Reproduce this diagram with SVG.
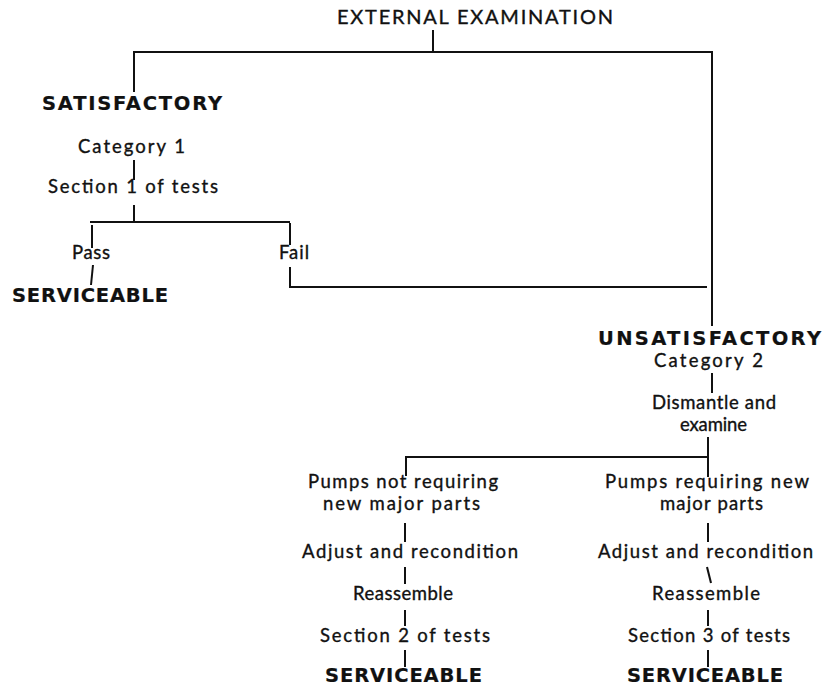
<svg xmlns="http://www.w3.org/2000/svg" width="824" height="690" viewBox="0 0 824 690">
<style>
text{font-family:Lato,"Open Sans","Liberation Sans",sans-serif;fill:#111;text-anchor:middle;stroke:#111;stroke-width:0.35}
.n{font-size:18.5px}
.t{font-size:20px}
.b{font-family:"DejaVu Sans","Liberation Sans",sans-serif;font-size:19.5px;font-weight:bold;stroke-width:0.2}
.c{stroke:#111;stroke-width:2;fill:none;stroke-linecap:butt}
</style>
<rect width="824" height="690" fill="#fff"/>
<g id="connectors" class="c">
<path d="M433,30V52"/>
<path d="M134,92V52H712V326"/>
<path d="M134,160V180"/>
<path d="M134,205V222"/>
<path d="M90,222H290"/>
<path d="M92,225V248"/>
<path d="M93,265L91,285"/>
<path d="M290,223V245"/>
<path d="M290,267V287H707"/>
<path d="M712,373V393"/>
<path d="M708,437V477"/>
<path d="M406,476V457H708"/>
<path d="M405,523V542"/>
<path d="M405,567V584"/>
<path d="M405,610V626"/>
<path d="M405,650V667"/>
<path d="M708,523V542"/>
<path d="M707,567L711,583"/>
<path d="M708,610V626"/>
<path d="M708,650V667"/>
</g>
<g id="external-examination"><text class="t" x="475" y="24" textLength="276">EXTERNAL EXAMINATION</text></g>
<g id="satisfactory"><text class="b" x="132" y="110" textLength="180">SATISFACTORY</text></g>
<g id="category-1"><text class="n" x="131.5" y="153" textLength="107">Category 1</text></g>
<g id="section-1"><text class="n" x="133" y="193" textLength="170">Section 1 of tests</text></g>
<g id="pass"><text class="n" x="91" y="259" textLength="38">Pass</text></g>
<g id="fail"><text class="n" x="294" y="259" textLength="30">Fail</text></g>
<g id="serviceable-1"><text class="b" x="90" y="302" textLength="156">SERVICEABLE</text></g>
<g id="unsatisfactory"><text class="b" x="709.5" y="345" textLength="223">UNSATISFACTORY</text></g>
<g id="category-2"><text class="n" x="708.5" y="367" textLength="109">Category 2</text></g>
<g id="dismantle"><text class="n" x="714" y="409" textLength="124">Dismantle and</text><text class="n" x="713.5" y="431" textLength="67">examine</text></g>
<g id="pumps-not"><text class="n" x="403" y="488" textLength="190">Pumps not requiring</text><text class="n" x="401.5" y="510" textLength="157">new major parts</text></g>
<g id="adjust-left"><text class="n" x="410" y="558" textLength="216">Adjust and recondition</text></g>
<g id="reassemble-left"><text class="n" x="403" y="600" textLength="100">Reassemble</text></g>
<g id="section-2"><text class="n" x="405" y="642" textLength="170">Section 2 of tests</text></g>
<g id="serviceable-2"><text class="b" x="403.5" y="682" textLength="157">SERVICEABLE</text></g>
<g id="pumps-new"><text class="n" x="707" y="488" textLength="204">Pumps requiring new</text><text class="n" x="711.5" y="510" textLength="103">major parts</text></g>
<g id="adjust-right"><text class="n" x="705.5" y="558" textLength="215">Adjust and recondition</text></g>
<g id="reassemble-right"><text class="n" x="706" y="600" textLength="108">Reassemble</text></g>
<g id="section-3"><text class="n" x="709" y="642" textLength="162">Section 3 of tests</text></g>
<g id="serviceable-3"><text class="b" x="705" y="682" textLength="156">SERVICEABLE</text></g>
</svg>
